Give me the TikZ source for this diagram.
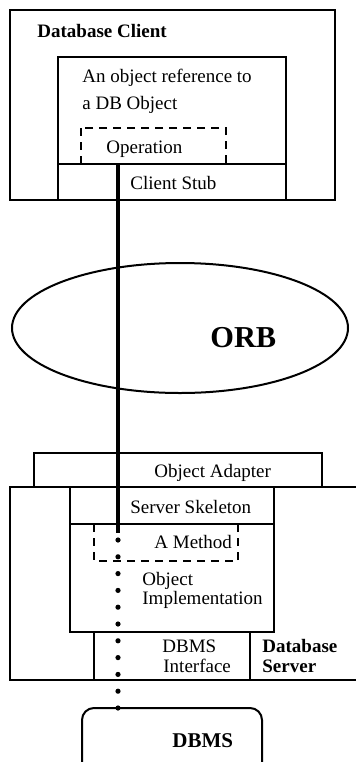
\documentclass[tikz,border=0pt]{standalone}
\usepackage{fontspec}
\setmainfont{Liberation Serif}
\begin{document}
\begin{tikzpicture}[x=0.5pt,y=-0.5pt,
    frame/.style={line width=1pt},
    part/.style={line width=0.6pt},
    dashbox/.style={line width=0.6pt,dash pattern=on 4pt off 3pt},
    call/.style={line width=2.2pt},
    dots/.style={line width=2.6pt,line cap=round,dash pattern=on 0pt off 8.4pt},
    lbl/.style={anchor=base west,inner sep=0pt,font=\fontsize{9.5}{11}\selectfont},
    title/.style={anchor=base west,inner sep=0pt,font=\fontsize{9.5}{11}\selectfont\bfseries}]
    \useasboundingbox (0,0) rectangle (356,762);
    \clip (0,0) rectangle (356,762);

    \coordinate (C1) at (10, 10);
    \coordinate (C2) at (335, 200);
    \coordinate (R1) at (58, 57);
    \coordinate (R2) at (286, 200);
    \coordinate (O1) at (81, 128);
    \coordinate (O2) at (226, 164);
    \coordinate (A1) at (34, 453);
    \coordinate (A2) at (322, 487);
    \coordinate (K1) at (70, 487);
    \coordinate (K2) at (274, 632);
    \coordinate (M1) at (94, 524);
    \coordinate (M2) at (238, 561);
    \coordinate (I1) at (94, 632);
    \coordinate (I2) at (250, 680);
    \coordinate (D1) at (82, 708);
    \coordinate (D2) at (262, 790);

    \draw[frame] (C1) rectangle (C2);
    \draw[part] (R1) rectangle (R2);
    \draw[part] (58, 164) -- (286, 164);
    \draw[dashbox] (O1) rectangle (O2);

    \draw[frame] (180, 328) ellipse [x radius=168, y radius=65];

    \draw[frame] (A1) rectangle (A2);
    \draw[frame] (362, 487) -- (10, 487) -- (10, 680) -- (362, 680);
    \draw[part] (K1) rectangle (K2);
    \draw[part] (70, 524) -- (274, 524);
    \draw[dashbox] (M1) rectangle (M2);
    \draw[part] (I1) rectangle (I2);
    \draw[frame,rounded corners=6pt] (D1) rectangle (D2);

    \node[title] (client) at (37, 37) {Database Client};
    \node[lbl] (ref1) at (82, 82) {An object reference to};
    \node[lbl] (ref2) at (82, 109) {a DB Object};
    \node[lbl] (op) at (106, 153) {Operation};
    \node[lbl] (stub) at (130, 189) {Client Stub};
    \node[title,font=\fontsize{15.2}{18}\selectfont\bfseries] (orb) at (210, 347) {ORB};
    \node[lbl] (adapter) at (154, 477) {Object Adapter};
    \node[lbl] (skel) at (130, 513) {Server Skeleton};
    \node[lbl] (meth) at (154, 548) {A Method};
    \node[lbl,anchor=north west,align=left,font=\fontsize{9.5}{7.6}\selectfont] (impl) at (142, 572) {Object\\Implementation};
    \node[lbl] (dbi1) at (162, 652) {DBMS};
    \node[lbl] (dbi2) at (163, 672) {Interface};
    \node[title] (srv1) at (262, 652) {Database};
    \node[title] (srv2) at (262, 672) {Server};
    \node[title,font=\fontsize{10.5}{12}\selectfont\bfseries] (dbms) at (172, 747) {DBMS};

    \coordinate (from) at (118, 164);
    \coordinate (to) at (118, 533);
    \coordinate (dot) at (118, 540);
    \coordinate (db) at (118, 708);
    \draw[call] (from) -- (to);
    \draw[dots] (dot) -- (db);
\end{tikzpicture}
\end{document}
